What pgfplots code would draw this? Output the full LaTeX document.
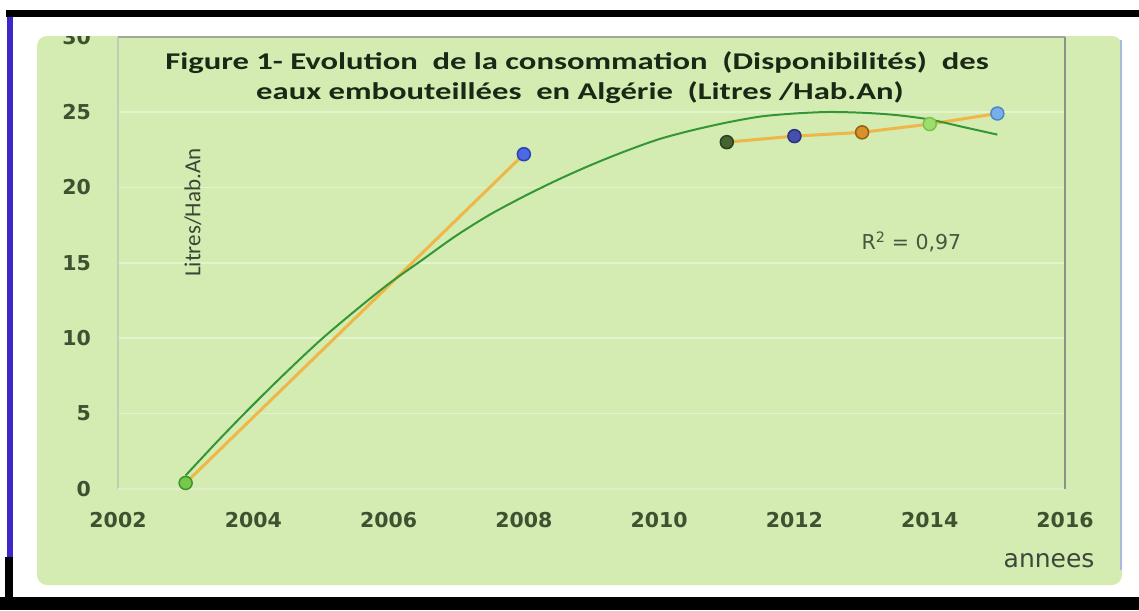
\documentclass[border=0pt]{standalone}
\usepackage{pgfplots}
\pgfplotsset{compat=1.18}
\usepackage{fontspec}
\setmainfont{Carlito}
\newfontfamily\titlefont[FakeStretch=1.36]{Carlito}
\newfontfamily\dejavu{DejaVu Sans}
\definecolor{panel}{RGB}{212,236,178}
\definecolor{gridc}{RGB}{226,243,206}
\definecolor{tickc}{RGB}{62,82,50}
\definecolor{titlec}{RGB}{28,40,22}
\definecolor{orangel}{RGB}{238,183,72}
\definecolor{trendc}{RGB}{52,150,52}
\begin{document}
\begin{tikzpicture}[x=1pt,y=1pt]
\fill[white] (0,0) rectangle (1139,610);
% green panel
\fill[panel, rounded corners=10pt] (37,25) rectangle (1122,574);
\draw[color={rgb,255:red,170;green,185;blue,225}, line width=1.5pt] (1121,40) -- (1121,570);
\begin{axis}[
  at={(118pt,121pt)}, anchor=south west,
  scale only axis, width=947pt, height=452.4pt,
  xmin=2002, xmax=2016, ymin=0, ymax=30,
  xtick={2002,2004,...,2016}, ytick={0,5,...,30},
  axis line style={draw=none},
  major tick length=0pt,
  ymajorgrids, grid style={color=gridc, line width=1.6pt},
  /pgf/number format/1000 sep={},
  /pgf/number format/assume math mode=true,
  ticklabel style={font=\dejavu\bfseries\fontsize{20.5}{24}\selectfont, text=tickc, inner sep=0pt},
  xticklabel style={anchor=north}, xticklabel shift=23pt,
  yticklabel style={anchor=east}, yticklabel shift=27pt,
  clip=false,
  unbounded coords=jump,
]
% plot-area frame
\draw[color={rgb,255:red,192;green,206;blue,180}, line width=1.5pt] (rel axis cs:0,0) -- (rel axis cs:0,1);
\draw[color={rgb,255:red,225;green,238;blue,205}, line width=1.5pt] (rel axis cs:0,0) -- (rel axis cs:1,0);
\draw[color={rgb,255:red,160;green,170;blue,150}, line width=2pt] (rel axis cs:0,1) -- (rel axis cs:1,1);
\draw[color={rgb,255:red,140;green,146;blue,134}, line width=2pt] (rel axis cs:1,0) -- (rel axis cs:1,1);
% orange connecting line
\addplot[color=orangel, line width=3pt, no markers] table {
x y
2003 0.4
2008 22.2
2009 nan
2011 23.0
2012 23.4
2013 23.65
2014 24.2
2015 24.9
};
% polynomial trend line
\addplot[color=trendc, line width=2pt, no markers, smooth] table {
x y
2003.0 0.9
2003.5 3.3
2004.0 5.6
2004.5 7.8
2005.0 9.9
2005.5 11.8
2006.0 13.6
2006.5 15.2
2007.0 16.8
2007.5 18.2
2008.0 19.4
2008.5 20.5
2009.0 21.5
2009.5 22.4
2010.0 23.2
2010.5 23.8
2011.0 24.3
2011.5 24.7
2012.0 24.9
2012.5 25.0
2013.0 24.95
2013.5 24.8
2014.0 24.5
2014.5 24.0
2015.0 23.5
};
% markers
\addplot[only marks, scatter, scatter src=explicit symbolic,
  scatter/classes={
    a={mark=*, mark size=6.5pt, draw={rgb,255:red,60;green,150;blue,40}, fill={rgb,255:red,120;green,200;blue,80}, line width=1.5pt},
    b={mark=*, mark size=6.5pt, draw={rgb,255:red,45;green,65;blue,180}, fill={rgb,255:red,75;green,105;blue,225}, line width=1.5pt},
    c={mark=*, mark size=6.5pt, draw={rgb,255:red,40;green,65;blue,30}, fill={rgb,255:red,70;green,100;blue,50}, line width=1.5pt},
    d={mark=*, mark size=6.5pt, draw={rgb,255:red,40;green,50;blue,130}, fill={rgb,255:red,70;green,80;blue,170}, line width=1.5pt},
    e={mark=*, mark size=6.5pt, draw={rgb,255:red,150;green,95;blue,20}, fill={rgb,255:red,215;green,145;blue,45}, line width=1.5pt},
    f={mark=*, mark size=6.5pt, draw={rgb,255:red,120;green,195;blue,80}, fill={rgb,255:red,160;green,220;blue,110}, line width=1.5pt},
    g={mark=*, mark size=6.5pt, draw={rgb,255:red,75;green,135;blue,205}, fill={rgb,255:red,120;green,175;blue,230}, line width=1.5pt}
  }] table[meta=c] {
x y c
2003 0.4 a
2008 22.2 b
2011 23.0 c
2012 23.4 d
2013 23.65 e
2014 24.2 f
2015 24.9 g
};
\end{axis}
% white strip covering top of panel and half of the 30 label
\fill[white] (14,574) rectangle (1139,593);
% frame bands
\fill[black] (6,593) rectangle (1139,600);
\fill[black] (0,0) rectangle (1139,13);
\fill[color={rgb,255:red,60;green,40;blue,200}] (7,53) rectangle (13,593);
\fill[black] (5,13) rectangle (13,53);
% texts
\node[anchor=base, text=titlec, font=\titlefont\bfseries\fontsize{24}{29}\selectfont] at (577,540.7) {Figure 1- Evolution\ \ de la consommation\ \ (Disponibilit\'es)\ \ des};
\node[anchor=base, text=titlec, font=\titlefont\bfseries\fontsize{24}{29}\selectfont] at (580,510.7) {eaux embouteill\'ees\ \ en Alg\'erie\ \ (Litres /Hab.An)};
\node[rotate=90, text={rgb,255:red,60;green,70;blue,55}, font=\fontsize{23}{27}\selectfont] at (193,397.5) {Litres/Hab.An};
\node[anchor=base west, text={rgb,255:red,72;green,86;blue,64}, font=\dejavu\fontsize{20.5}{24}\selectfont] at (858,360) {R\textsuperscript{2} = 0,97};
\node[anchor=base east, text={rgb,255:red,62;green,72;blue,58}, font=\dejavu\fontsize{25}{29}\selectfont] at (1098,43) {annees};
\end{tikzpicture}
\end{document}
